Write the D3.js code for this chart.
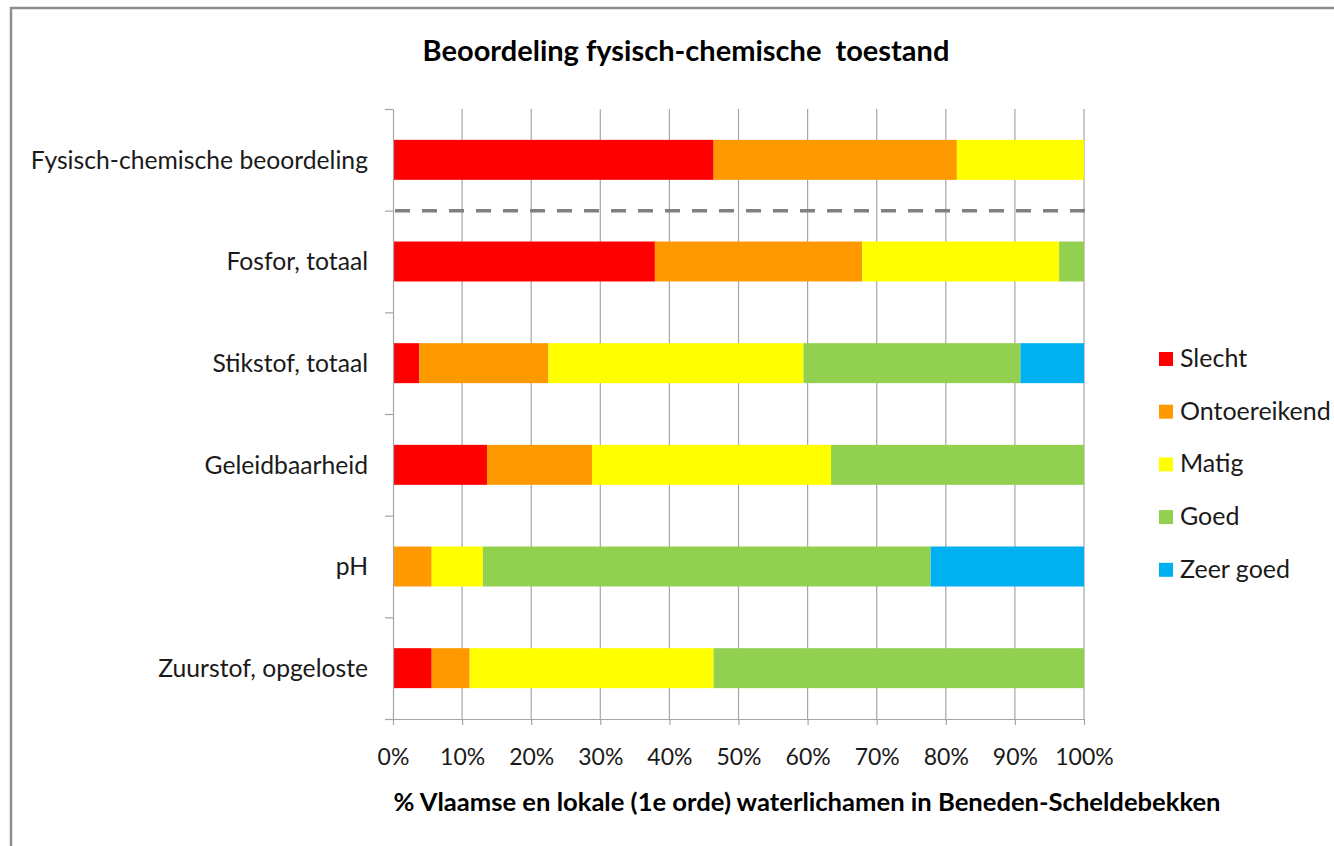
<!DOCTYPE html>
<html>
<head>
<meta charset="utf-8">
<script src="https://cdn.jsdelivr.net/npm/d3@7"></script>
<style>
  html, body { margin: 0; padding: 0; background: #fff; }
  svg { display: block; font-family: Lato, "Open Sans", sans-serif; }
</style>
</head>
<body>
<svg id="chart" width="1334" height="846"></svg>
<script>
// ---- data ----
const categories = [
  "Fysisch-chemische beoordeling",
  "Fosfor, totaal",
  "Stikstof, totaal",
  "Geleidbaarheid",
  "pH",
  "Zuurstof, opgeloste"
];
const seriesNames = ["Slecht", "Ontoereikend", "Matig", "Goed", "Zeer goed"];
const slecht      = [46.4, 37.9,  3.8, 13.6,  0.0,  5.6];
const ontoereikend= [35.2, 30.0, 18.7, 15.2,  5.6,  5.5];
const matig       = [18.4, 28.5, 36.9, 34.6,  7.4, 35.3];
const goed        = [ 0.0,  3.6, 31.4, 36.6, 64.8, 53.6];
const zeerGoed    = [ 0.0,  0.0,  9.2,  0.0, 22.2,  0.0];
const colors = ["#FF0000", "#FF9900", "#FFFF00", "#92D050", "#00B0F0"];
const xTicks = [0, 10, 20, 30, 40, 50, 60, 70, 80, 90, 100];
const title = "Beoordeling fysisch-chemische\u00A0 toestand";
const xTitle = "% Vlaamse en lokale (1e orde) waterlichamen in Beneden-Scheldebekken";

// ---- layout ----
const svg = d3.select("#chart");
const plotL = 393, plotR = 1084, plotT = 109, plotB = 719;

const rows = categories.map((c, i) => ({
  cat: c,
  Slecht: slecht[i], Ontoereikend: ontoereikend[i], Matig: matig[i],
  Goed: goed[i], "Zeer goed": zeerGoed[i]
}));
const stack = d3.stack().keys(seriesNames)(rows);

const x = d3.scaleLinear().domain([0, 100]).range([plotL, plotR]);
const y = d3.scaleBand().domain(categories).range([plotT, plotB])
  .paddingInner(0.607).paddingOuter(0.3035);
const yEdge = d3.scaleLinear().domain([0, categories.length]).range([plotT, plotB]);
const color = d3.scaleOrdinal().domain(seriesNames).range(colors);

// outer border (top and left)
svg.append("path")
  .attr("d", "M11,846 L11,8 L1334,8")
  .attr("fill", "none").attr("stroke", "#8e8e8e").attr("stroke-width", 2.5);

// title
svg.append("text")
  .attr("x", 686).attr("y", 61)
  .attr("text-anchor", "middle")
  .attr("font-weight", "bold").attr("font-size", 29)
  .attr("fill", "#000")
  .text(title);

// gridlines
svg.append("g").selectAll("line").data(xTicks.slice(1)).join("line")
  .attr("x1", d => x(d)).attr("x2", d => x(d))
  .attr("y1", plotT).attr("y2", plotB)
  .attr("stroke", "#a6a6a6").attr("stroke-width", 1.2);

// bars
svg.append("g").selectAll("g").data(stack).join("g")
  .attr("fill", d => color(d.key))
  .selectAll("rect").data(d => d).join("rect")
  .attr("x", d => x(d[0]))
  .attr("width", d => x(d[1]) - x(d[0]))
  .attr("y", d => y(d.data.cat))
  .attr("height", y.bandwidth());

// x axis
const xAxis = svg.append("g")
  .attr("transform", `translate(0,${plotB})`)
  .call(d3.axisBottom(x).tickValues(xTicks).tickFormat(d => d + "%").tickSizeInner(6).tickSizeOuter(0));
xAxis.select(".domain").attr("stroke", "#a6a6a6").attr("stroke-width", 1.2);
xAxis.selectAll(".tick line").attr("stroke", "#a6a6a6").attr("stroke-width", 1.2);
xAxis.selectAll(".tick text")
  .attr("font-family", "Lato, 'Open Sans', sans-serif")
  .attr("font-size", 23).attr("fill", "#1a1a1a").attr("y", 0).attr("dy", 46);

// y axis (ticks at band edges)
const yAxis = svg.append("g")
  .attr("transform", `translate(${plotL},0)`)
  .call(d3.axisLeft(yEdge).tickValues(d3.range(categories.length + 1)).tickFormat("").tickSizeInner(8).tickSizeOuter(0));
yAxis.select(".domain").attr("stroke", "#a6a6a6").attr("stroke-width", 1.2);
yAxis.selectAll(".tick line").attr("stroke", "#a6a6a6").attr("stroke-width", 1.2);

// category labels
svg.append("g").selectAll("text").data(categories).join("text")
  .attr("x", 368)
  .attr("y", d => y(d) + y.bandwidth() / 2)
  .attr("dy", "0.36em")
  .attr("text-anchor", "end")
  .attr("font-size", 24.7).attr("fill", "#1a1a1a")
  .text(d => d);

// dashed separator between the overall assessment and the parameters
svg.append("line")
  .attr("x1", x(0) + 2).attr("x2", x(100) + 2)
  .attr("y1", yEdge(1)).attr("y2", yEdge(1))
  .attr("stroke", "#808080").attr("stroke-width", 3.5)
  .attr("stroke-dasharray", "15,12");

// x axis title
svg.append("text")
  .attr("x", 807).attr("y", 811)
  .attr("text-anchor", "middle")
  .attr("font-weight", "bold").attr("font-size", 25.6)
  .attr("fill", "#000")
  .text(xTitle);

// legend
const legend = svg.append("g").selectAll("g").data(seriesNames).join("g")
  .attr("transform", (d, i) => `translate(1159,${367 + i * 52.7})`);
legend.append("rect")
  .attr("x", 0).attr("y", -15).attr("width", 14).attr("height", 14)
  .attr("fill", d => color(d));
legend.append("text")
  .attr("x", 21).attr("y", 0)
  .attr("font-size", 25).attr("fill", "#1a1a1a")
  .text(d => d);
</script>
</body>
</html>
